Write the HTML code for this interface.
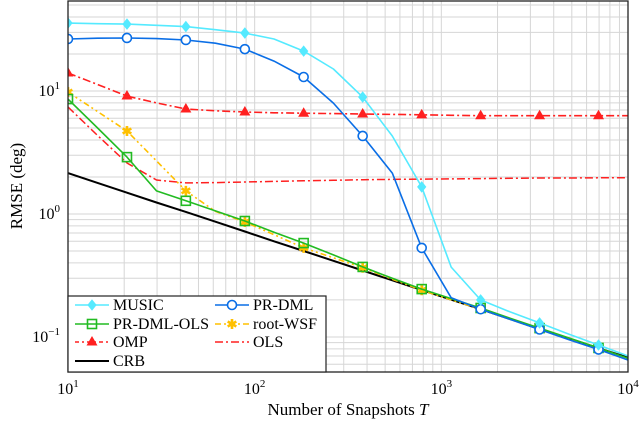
<!DOCTYPE html>
<html><head><meta charset="utf-8"><style>
html,body{margin:0;padding:0;background:#fff;}
svg{display:block;font-family:"Liberation Serif",serif;}
</style></head><body>
<svg id="chart" width="640" height="432" viewBox="0 0 640 432"></svg>
<script>
const snapshots=[10,14.4,20.7,29.8,42.8,61.6,88.6,127,183,264,379,546,785,1129,1624,2336,3360,4833,6952,10000];
const musicVals=[35.7,35.3,35.0,34.2,33.4,31.5,29.6,26.5,21.1,15.1,8.93,4.31,1.66,0.370,0.200,0.160,0.130,0.105,0.086,0.070];
const prdmlVals=[26.5,26.9,27.0,26.7,26.0,24.5,21.9,17.5,13.0,7.98,4.31,2.15,0.53,0.208,0.168,0.139,0.115,0.095,0.079,0.065];
const prdmlolsVals=[8.6,5.0,2.90,1.54,1.28,1.06,0.877,0.71,0.58,0.465,0.371,0.30,0.245,0.205,0.172,0.142,0.118,0.098,0.0814,0.067];
const rootwsfVals=[9.8,6.8,4.73,2.7,1.54,1.05,0.86,0.68,0.53,0.44,0.365,0.295,0.24,0.2,0.168,0.139,0.115,0.096,0.080,0.066];
const ompVals=[14.0,11.3,9.1,8.0,7.14,6.9,6.75,6.65,6.6,6.55,6.5,6.45,6.4,6.35,6.3,6.3,6.3,6.3,6.3,6.3];
const olsVals=[7.41,4.35,2.6,1.89,1.79,1.80,1.82,1.84,1.86,1.88,1.90,1.91,1.92,1.93,1.94,1.95,1.96,1.96,1.97,1.97];
const crbVals=[2.15,1.79,1.49,1.24,1.04,0.865,0.72,0.60,0.50,0.416,0.347,0.289,0.241,0.201,0.168,0.140,0.116,0.097,0.081,0.068];
const xTickExps=[1,2,3,4];
const yTickExps=[-1,0,1];

const L=68,R=628,T=1,B=372;
const xmin=1,xmax=4,yTopLog=1.732,yBotLog=-1.285;
function xs(v){return L+(Math.log10(v)-xmin)/(xmax-xmin)*(R-L);}
function ys(v){return T+(yTopLog-Math.log10(v))/(yTopLog-yBotLog)*(B-T);}
const NS="http://www.w3.org/2000/svg";
const svg=document.getElementById('chart');
function mk(tag,attrs,parent){const e=document.createElementNS(NS,tag);for(const k in attrs)e.setAttribute(k,attrs[k]);(parent||svg).appendChild(e);return e;}

const defs=mk('defs',{});
const cp=mk('clipPath',{id:'clip'},defs);mk('rect',{x:L,y:T,width:R-L,height:B-T},cp);

// grid
const grid=mk('g',{stroke:'#d6d6d6','stroke-width':1});


for(let e=1;e<4;e++)for(let m=1;m<10;m++){const x=xs(m*Math.pow(10,e));if(x>L+0.5&&x<R-0.5)mk('line',{x1:x,y1:T,x2:x,y2:B},grid);}
for(let e=-2;e<2;e++)for(let m=1;m<10;m++){const y=ys(m*Math.pow(10,e));if(y>T+0.5&&y<B-0.5)mk('line',{x1:L,y1:y,x2:R,y2:y},grid);}

// ticks labels
xTickExps.forEach(e=>{
  const t=mk('text',{x:xs(Math.pow(10,e)),y:394,'text-anchor':'middle','font-size':16,fill:'#000'});
  
  
  t.innerHTML='10<tspan dy="-7" font-size="11">'+e+'</tspan>';
});
yTickExps.forEach(e=>{
  const t=mk('text',{x:60,y:ys(Math.pow(10,e))+5,'text-anchor':'end','font-size':16,fill:'#000'});
  
  
  t.innerHTML='10<tspan dy="-7" font-size="11">'+(e<0?'\u2212'+(-e):e)+'</tspan>';
});

const plot=mk('g',{'clip-path':'url(#clip)'});
function marker(type,x,y,color,g){
  if(type==='diamond')mk('path',{d:`M${x} ${y-5}L${x+4} ${y}L${x} ${y+5}L${x-4} ${y}Z`,fill:color,stroke:color,'stroke-width':1},g);
  else if(type==='circle')mk('circle',{cx:x,cy:y,r:4.5,fill:'#fff',stroke:color,'stroke-width':1.6},g);
  else if(type==='square')mk('rect',{x:x-4.5,y:y-4.5,width:9,height:9,fill:'none',stroke:color,'stroke-width':1.6},g);
  else if(type==='tri')mk('path',{d:`M${x} ${y-6}L${x+5.5} ${y+3.5}L${x-5.5} ${y+3.5}Z`,fill:color},g);
  else if(type==='star'){let d='';for(let i=0;i<3;i++){const a=i*Math.PI/3+Math.PI/2;d+=`M${x+5*Math.cos(a)} ${y+5*Math.sin(a)}L${x-5*Math.cos(a)} ${y-5*Math.sin(a)}`;}mk('path',{d:d,stroke:color,'stroke-width':2.6},g);mk('circle',{cx:x,cy:y,r:2.5,fill:color},g);}
}
const series=[
 {name:'olsline',vals:olsVals,color:'#ff2020',dash:'8 3 2 3',m:null,w:1.5},
 {name:'crb',vals:crbVals,color:'#000',dash:null,m:null,w:2},
 {name:'rootwsf',vals:rootwsfVals,color:'#ffc000',dash:'6 3 2 3 2 3',m:'star',w:1.6},
 {name:'prdmlols',vals:prdmlolsVals,color:'#22bb22',dash:null,m:'square',w:1.6},
 {name:'omp',vals:ompVals,color:'#ff2020',dash:'8 3 2 3',m:'tri',w:1.6},
 {name:'prdml',vals:prdmlVals,color:'#0a6ee6',dash:null,m:'circle',w:1.6},
 {name:'music',vals:musicVals,color:'#55eaff',dash:null,m:'diamond',w:1.6},
];
series.forEach(s=>{
  const g=mk('g',{},plot);
  
  
  const pts=s.vals.map((v,i)=>xs(snapshots[i]).toFixed(1)+','+ys(v).toFixed(1)).join(' ');
  const a={points:pts,fill:'none',stroke:s.color,'stroke-width':s.w,'stroke-linejoin':'round'};
  if(s.dash)a['stroke-dasharray']=s.dash;
  mk('polyline',a,g);
  if(s.m)s.vals.forEach((v,i)=>{if(i%2===0)marker(s.m,xs(snapshots[i]),ys(v),s.color,g);});
});

// axis box
const box=mk('rect',{x:L,y:T,width:R-L,height:B-T,fill:'none',stroke:'#222','stroke-width':1.3});



// legend
const lg=mk('g',{});


mk('rect',{x:L,y:296,width:258,height:B-296,fill:'#fff',stroke:'#222','stroke-width':1.2},lg);
const entries=[
 ['MUSIC','#55eaff',null,'diamond',75,305],['PR-DML','#0a6ee6',null,'circle',215,305],
 ['PR-DML-OLS','#22bb22',null,'square',75,324],['root-WSF','#ffc000','6 3 2 3','star',215,324],
 ['OMP','#ff2020','4 3 2 3','tri',75,342],['OLS','#ff2020','8 3 2 3',null,215,342],
 ['CRB','#000',null,null,75,361]];
entries.forEach(en=>{
  const g=mk('g',{},lg);
  
  
  const a={x1:en[4],y1:en[5],x2:en[4]+34,y2:en[5],stroke:en[1],'stroke-width':en[0]==='CRB'?2:1.6};
  if(en[2])a['stroke-dasharray']=en[2];
  mk('line',a,g);
  if(en[3])marker(en[3],en[4]+17,en[5],en[1],g);
  const t=mk('text',{x:en[4]+38,y:en[5]+5,'font-size':16,fill:'#000'},g);
  t.textContent=en[0];
});

const xl=mk('text',{x:348,y:415,'text-anchor':'middle','font-size':17,fill:'#000'});


xl.innerHTML='Number of Snapshots <tspan font-style="italic">T</tspan>';
const yl=mk('text',{x:0,y:0,'text-anchor':'middle','font-size':17,fill:'#000',transform:'translate(22,186) rotate(-90)'});


yl.textContent='RMSE (deg)';
</script>
</body></html>
